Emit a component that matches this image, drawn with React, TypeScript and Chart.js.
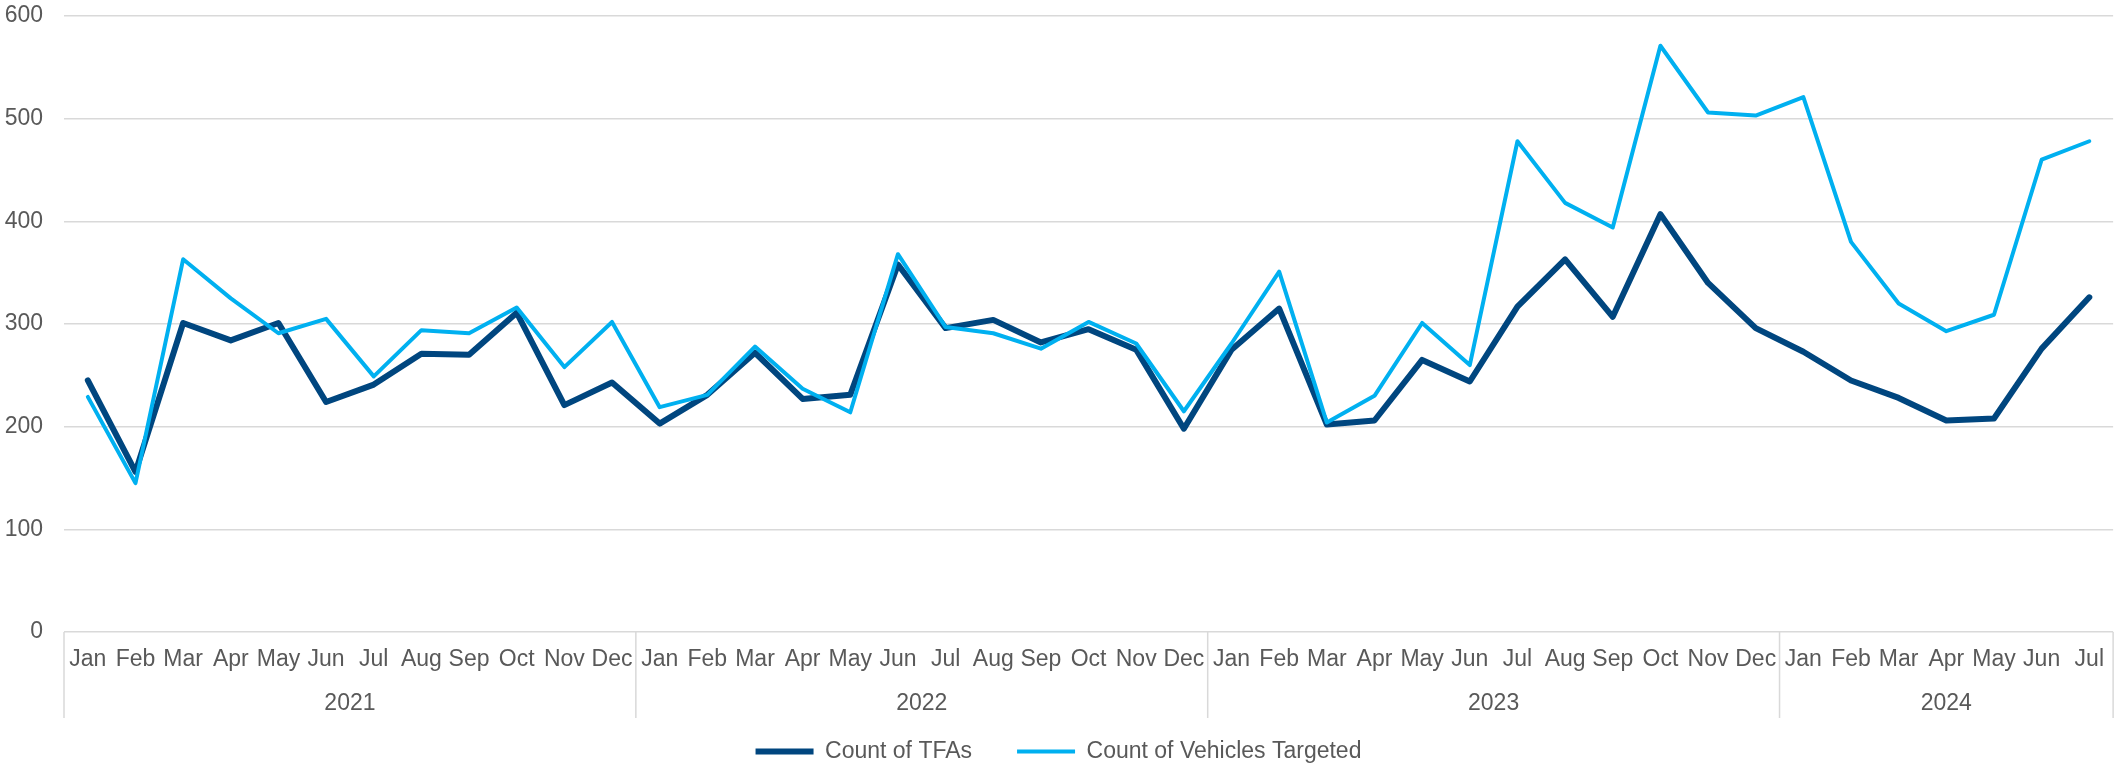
import React, { useEffect, useRef } from "react";
import { Chart, registerables } from "chart.js";

Chart.register(...registerables);

const monthNames = ["Jan", "Feb", "Mar", "Apr", "May", "Jun", "Jul", "Aug", "Sep", "Oct", "Nov", "Dec"];
const years = ["2021", "2022", "2023", "2024"];
const monthsPerYear = [12, 12, 12, 7];

const tfas = [
  245, 156, 301, 284, 301, 224, 241, 271, 270, 311, 221, 243,
  203, 231, 272, 227, 231, 358, 296, 304, 282, 295, 275, 198,
  275, 315, 202, 206, 265, 244, 317, 363, 307, 407, 340, 296,
  273, 245, 228, 206, 208, 276, 326,
];

const vehicles = [
  229, 145, 363, 325, 291, 305, 249, 294, 291, 316, 258, 302,
  219, 231, 278, 237, 214, 368, 297, 291, 276, 302, 281, 215,
  281, 351, 204, 230, 301, 260, 478, 418, 394, 571, 506, 503,
  521, 380, 320, 293, 309, 460, 478,
];

const yTicks = [0, 100, 200, 300, 400, 500, 600];

const labels: string[] = [];
monthsPerYear.forEach((n) => {
  for (let i = 0; i < n; i++) labels.push(monthNames[i]);
});

const FONT = "'Liberation Sans', Arial, sans-serif";
const TEXT = "#595959";
const GRID = "#d9d9d9";

const yearGroupPlugin = {
  id: "yearGroups",
  afterDraw(chart: any) {
    const x = chart.scales.x;
    const ctx = chart.ctx;
    const half = (x.getPixelForValue(1) - x.getPixelForValue(0)) / 2;
    const top = chart.chartArea.bottom;
    const bottom = top + 86;
    ctx.save();
    ctx.strokeStyle = GRID;
    ctx.lineWidth = 1.5;
    ctx.fillStyle = TEXT;
    ctx.font = `23px ${FONT}`;
    ctx.textAlign = "center";
    ctx.textBaseline = "middle";
    let start = 0;
    const drawLine = (px: number) => {
      ctx.beginPath();
      ctx.moveTo(px, top);
      ctx.lineTo(px, bottom);
      ctx.stroke();
    };
    years.forEach((yr, i) => {
      const end = start + monthsPerYear[i] - 1;
      const left = x.getPixelForValue(start) - half;
      const right = x.getPixelForValue(end) + half;
      if (i === 0) drawLine(left);
      drawLine(right);
      ctx.fillText(yr, (left + right) / 2, top + 72);
      start = end + 1;
    });
    ctx.restore();
  },
};

export default function App() {
  const ref = useRef<HTMLCanvasElement | null>(null);
  useEffect(() => {
    if (!ref.current) return;
    const chart = new Chart(ref.current, {
      type: "line",
      data: {
        labels,
        datasets: [
          {
            label: "Count of TFAs",
            data: tfas,
            borderColor: "#00467F",
            backgroundColor: "#00467F",
            borderWidth: 6,
            pointRadius: 0,
            tension: 0,
            borderJoinStyle: "round",
            borderCapStyle: "round",
            order: 2,
          },
          {
            label: "Count of Vehicles Targeted",
            data: vehicles,
            borderColor: "#00B0F0",
            backgroundColor: "#00B0F0",
            borderWidth: 4,
            pointRadius: 0,
            tension: 0,
            borderJoinStyle: "round",
            borderCapStyle: "round",
            order: 1,
          },
        ],
      },
      options: {
        animation: false,
        responsive: false,
        devicePixelRatio: 1,
        layout: { padding: { top: 16, right: 1, left: 0, bottom: 0 } },
        plugins: {
          tooltip: { enabled: false },
          legend: {
            position: "bottom",
            labels: {
              usePointStyle: true,
              pointStyle: "line",
              pointStyleWidth: 58,
              padding: 45,
              color: TEXT,
              font: { size: 23, family: FONT },
              sort: (a: any, b: any) => a.datasetIndex - b.datasetIndex,
            },
          },
        },
        scales: {
          x: {
            type: "category",
            offset: true,
            grid: { display: false, drawTicks: false },
            border: { display: false },
            ticks: {
              color: TEXT,
              font: { size: 23, family: FONT },
              maxRotation: 0,
              autoSkip: false,
              padding: 14,
            },
            afterFit: (s: any) => {
              s.height = 63;
            },
          },
          y: {
            min: 0,
            max: 600,
            afterBuildTicks: (s: any) => {
              s.ticks = yTicks.map((v) => ({ value: v }));
            },
            grid: { color: GRID, lineWidth: 1.5, drawTicks: false },
            border: { display: false },
            ticks: {
              color: TEXT,
              font: { size: 23, family: FONT },
              padding: 21,
            },
            afterFit: (s: any) => {
              s.width = 64;
              s.paddingTop = 0;
              s.paddingBottom = 0;
            },
          },
        },
      },
      plugins: [yearGroupPlugin],
    });
    return () => chart.destroy();
  }, []);
  return (
    <div style={{ position: "absolute", left: 0, top: 0, width: 2118, height: 769, overflow: "hidden", background: "#fff" }}>
      <canvas ref={ref} width={2118} height={773} style={{ display: "block" }} />
    </div>
  );
}
